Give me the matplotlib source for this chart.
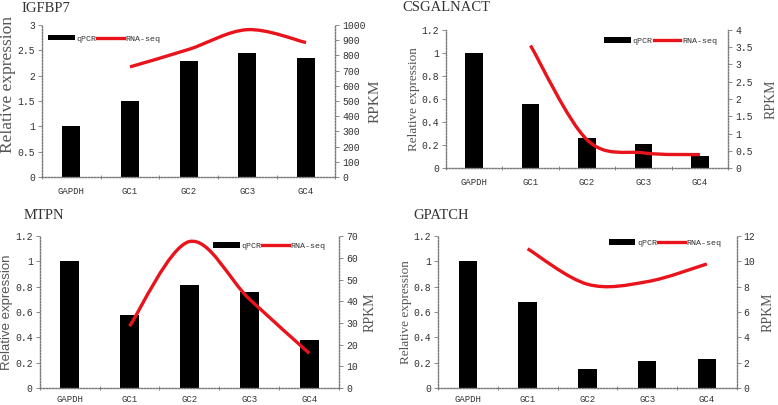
import matplotlib
matplotlib.use("Agg")
import matplotlib.pyplot as plt
from matplotlib.lines import Line2D
from matplotlib.patches import PathPatch, Patch
from matplotlib.path import Path
from matplotlib.ticker import FixedLocator, FuncFormatter
import numpy as np

CATEGORIES = ["GAPDH", "GC1", "GC2", "GC3", "GC4"]
GENES = ["IGFBP7", "CSGALNACT", "MTPN", "GPATCH"]

# qPCR relative expression (bars, left axis)
QPCR_IGFBP7 = [1.0, 1.5, 2.3, 2.45, 2.35]
QPCR_CSGALNACT = [1.0, 0.555, 0.26, 0.21, 0.105]
QPCR_MTPN = [1.0, 0.58, 0.815, 0.755, 0.38]
QPCR_GPATCH = [1.0, 0.68, 0.15, 0.21, 0.23]

# RNA-seq RPKM for GC1..GC4 (smoothed line, right axis)
RPKM_IGFBP7 = [725, 840, 970, 885]
RPKM_CSGALNACT = [3.55, 0.82, 0.44, 0.39]
RPKM_MTPN = [28.5, 67.5, 41, 16]
RPKM_GPATCH = [11.0, 8.2, 8.4, 9.8]

LEFT_MAX = [3.0, 1.2, 1.2, 1.2]
LEFT_STEP = [0.5, 0.2, 0.2, 0.2]
RIGHT_MAX = [1000, 4, 70, 12]
RIGHT_STEP = [100, 0.5, 10, 2]

QPCR = [QPCR_IGFBP7, QPCR_CSGALNACT, QPCR_MTPN, QPCR_GPATCH]
RPKM = [RPKM_IGFBP7, RPKM_CSGALNACT, RPKM_MTPN, RPKM_GPATCH]

# layout (figure fractions) per panel
AX_RECTS = [
    [0.054, 0.563, 0.377, 0.375],
    [0.573, 0.585, 0.363, 0.341],
    [0.051, 0.042, 0.385, 0.375],
    [0.563, 0.042, 0.384, 0.375],
]
TITLE_POS = [(0.028, 0.978), (0.517, 0.982), (0.030, 0.468), (0.531, 0.468)]
YLAB_POS = [(-0.089, 0.61), (-0.092, 0.5), (-0.09, 0.5), (-0.088, 0.5)]
YLAB_SIZE = [12.5, 9.5, 9.5, 9.5]
YLAB_FAMILY = ["Liberation Serif", "Liberation Serif", "Liberation Sans", "Liberation Serif"]
RLAB_POS = [(1.113, 0.5), (1.13, 0.5), (1.08, 0.5), (1.084, 0.5)]
RLAB_SIZE = [11, 10, 10, 10]
XLAB_PAD = [7, 7, 5, 5]
LEG_ANCHOR = [("center left", (0.02, 0.91)), ("center right", (0.96, 0.92)),
              ("center right", (0.955, 0.934)), ("center right", (0.948, 0.954))]

DOT = (0, (1, 1.2))
GRAY = "#777777"
MONO = "Liberation Mono"


def smooth_path(xs, ys):
    # Excel-like smoothed line: cubic Bezier segments with Catmull-Rom control points
    pts = np.column_stack([xs, ys]).astype(float)
    ext = np.vstack([pts[0], pts, pts[-1]])
    verts = [pts[0]]
    codes = [Path.MOVETO]
    for i in range(1, len(ext) - 2):
        p0, p1, p2, p3 = ext[i - 1], ext[i], ext[i + 1], ext[i + 2]
        verts += [p1 + (p2 - p0) / 6, p2 - (p3 - p1) / 6, p2]
        codes += [Path.CURVE4] * 3
    return Path(verts, codes)


def fmt(v, _pos):
    return f"{v:g}"


fig = plt.figure(figsize=(7.78, 4.05), dpi=100)

for k, gene in enumerate(GENES):
    ax = fig.add_axes(AX_RECTS[k])
    ax2 = ax.twinx()
    x = np.arange(len(CATEGORIES))

    ax.bar(x, QPCR[k], width=0.31, color="black", zorder=2)
    ax.set_xlim(-0.5, len(CATEGORIES) - 0.5)
    ax.set_ylim(0, LEFT_MAX[k])
    ax2.set_ylim(0, RIGHT_MAX[k])

    path = smooth_path(x[1:], RPKM[k])
    ax2.add_patch(PathPatch(path, facecolor="none", edgecolor="#e8131b", lw=2.4,
                            capstyle="butt", zorder=3))

    ax.yaxis.set_major_locator(FixedLocator(np.arange(0, LEFT_MAX[k] + 1e-9, LEFT_STEP[k])))
    ax.yaxis.set_major_formatter(FuncFormatter(fmt))
    ax2.yaxis.set_major_locator(FixedLocator(np.arange(0, RIGHT_MAX[k] + 1e-9, RIGHT_STEP[k])))
    ax2.yaxis.set_major_formatter(FuncFormatter(fmt))

    ax.set_xticks(x)
    ax.set_xticklabels(CATEGORIES)
    ax.set_xticks(np.arange(-0.5, len(CATEGORIES)), minor=True)
    ax.tick_params(axis="x", which="major", length=0, pad=XLAB_PAD[k], labelsize=6.5)
    ax.tick_params(axis="x", which="minor", length=3, width=0.6, color=GRAY, direction="inout")
    ax.tick_params(axis="y", length=3, width=0.6, color=GRAY, labelsize=7, pad=2)
    ax2.tick_params(axis="y", length=3, width=0.6, color=GRAY, labelsize=7, pad=2)
    for lab in ax.get_xticklabels() + ax.get_yticklabels() + ax2.get_yticklabels():
        lab.set_fontfamily(MONO)
        lab.set_color("#333333")

    for a in (ax, ax2):
        a.spines["top"].set_visible(False)
        for s in ("left", "right", "bottom"):
            a.spines[s].set_linestyle(DOT)
            a.spines[s].set_color(GRAY)
            a.spines[s].set_linewidth(1.0)
    ax.spines["right"].set_visible(False)
    ax2.spines["left"].set_visible(False)
    ax2.spines["bottom"].set_visible(False)

    ax.set_ylabel("Relative expression", fontsize=YLAB_SIZE[k], family=YLAB_FAMILY[k], color="#555555")
    ax.yaxis.set_label_coords(*YLAB_POS[k])
    ax2.set_ylabel("RPKM", fontsize=RLAB_SIZE[k], family="Liberation Serif", color="#555555")
    ax2.yaxis.set_label_coords(*RLAB_POS[k])

    fig.text(*TITLE_POS[k], gene, fontsize=10.5, family="Liberation Serif", color="#333333",
             ha="left", va="center")

    handles = [Patch(facecolor="black"), Line2D([], [], color="#e8131b", lw=2.4)]
    loc, anchor = LEG_ANCHOR[k]
    leg = ax2.legend(handles, ["qPCR", "RNA-seq"], loc=loc, bbox_to_anchor=anchor, ncol=2,
                     frameon=False, prop={"family": MONO, "size": 6}, handlelength=3.2,
                     handleheight=0.6, handletextpad=0.2, columnspacing=0.1,
                     borderaxespad=0, borderpad=0)
    for t in leg.get_texts():
        t.set_color("#333333")

fig.savefig("out.png", dpi=100)
